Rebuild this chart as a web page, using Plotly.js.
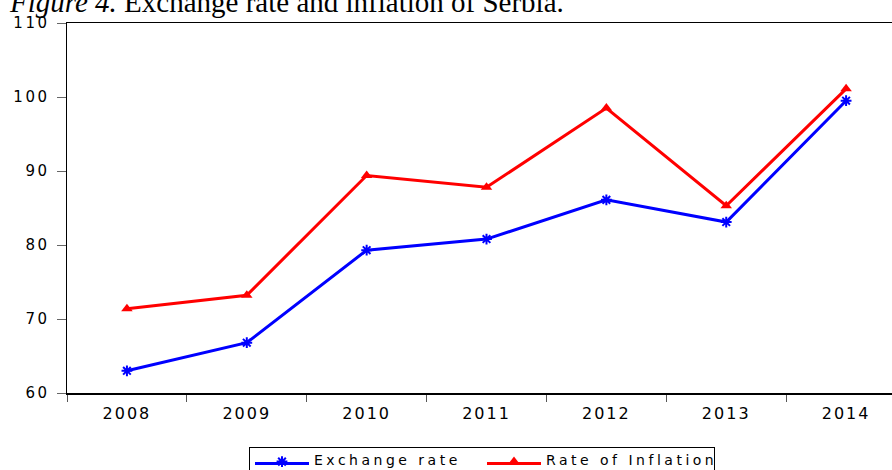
<!DOCTYPE html>
<html>
<head>
<meta charset="utf-8">
<script src="https://cdn.plot.ly/plotly-3.0.1.min.js"></script>
<style>
  html, body { margin: 0; padding: 0; background: #fff; }
  #chart { width: 892px; height: 470px; }
  .xtick text { letter-spacing: 2px; }
  .ytick text { letter-spacing: 2.5px; }
  .legendtext { letter-spacing: 3.5px; transform: translateY(-4px); }
  g.legendpoints { transform: translateY(-2px); }
</style>
</head>
<body>
<div id="chart"></div>
<script>
const years = ['2008', '2009', '2010', '2011', '2012', '2013', '2014'];
const exchangeRate = [63.0, 66.8, 79.3, 80.8, 86.1, 83.1, 99.5];
const inflationRate = [71.4, 73.2, 89.4, 87.8, 98.5, 85.3, 101.1];
const seriesNames = ['Exchange rate', 'Rate of Inflation'];
const titleText = '<i>Figure 4.</i> Exchange rate and inflation of Serbia.';

const traces = [
  {
    x: years, y: exchangeRate, name: seriesNames[0], type: 'scatter', mode: 'lines+markers',
    line: {color: '#0000FF', width: 3},
    marker: {symbol: 'asterisk-open', size: 9, color: '#0000FF', line: {color: '#0000FF', width: 2}}
  },
  {
    x: years, y: inflationRate, name: seriesNames[1], type: 'scatter', mode: 'lines+markers',
    line: {color: '#FF0000', width: 3},
    marker: {symbol: 'triangle-up', size: 10, color: '#FF0000'}
  }
];

const layout = {
  width: 892, height: 470,
  margin: {l: 67, r: 0, t: 23, b: 77, pad: 0, autoexpand: false},
  paper_bgcolor: '#ffffff', plot_bgcolor: '#ffffff',
  showlegend: true,
  xaxis: {
    type: 'category', range: [-0.5, 6.383], tickson: 'boundaries',
    ticks: 'outside', ticklen: 7, tickcolor: '#555', tickwidth: 1,
    showline: true, mirror: true, linecolor: '#000', linewidth: 1.5,
    showgrid: false, zeroline: false, automargin: false,
    ticklabelstandoff: 5,
    tickfont: {family: 'DejaVu Sans', size: 16, color: '#000'}
  },
  yaxis: {
    range: [60, 110], dtick: 10, tick0: 60,
    ticks: 'outside', ticklen: 9, tickcolor: '#666', tickwidth: 1,
    showline: true, linecolor: '#000', linewidth: 1.5,
    showgrid: false, zeroline: false, automargin: false,
    ticklabelstandoff: 4,
    tickfont: {family: 'DejaVu Sans', size: 15, color: '#000'}
  },
  legend: {
    orientation: 'h', xref: 'paper', yref: 'paper',
    x: 0.2206, xanchor: 'left', y: -0.146, yanchor: 'top',
    itemwidth: 54, entrywidth: 163, entrywidthmode: 'pixels',
    bordercolor: '#000', borderwidth: 1, bgcolor: '#fff',
    font: {family: 'DejaVu Sans', size: 14, color: '#000'},
    itemclick: false
  },
  annotations: [{
    text: titleText, xref: 'paper', yref: 'paper', x: 0, y: 1,
    xanchor: 'right', yanchor: 'bottom', xshift: 499, yshift: 3,
    showarrow: false, align: 'left',
    font: {family: 'Liberation Serif', size: 29, color: '#000'}
  }]
};

Plotly.newPlot('chart', traces, layout, {displayModeBar: false, staticPlot: true});
</script>
</body>
</html>
